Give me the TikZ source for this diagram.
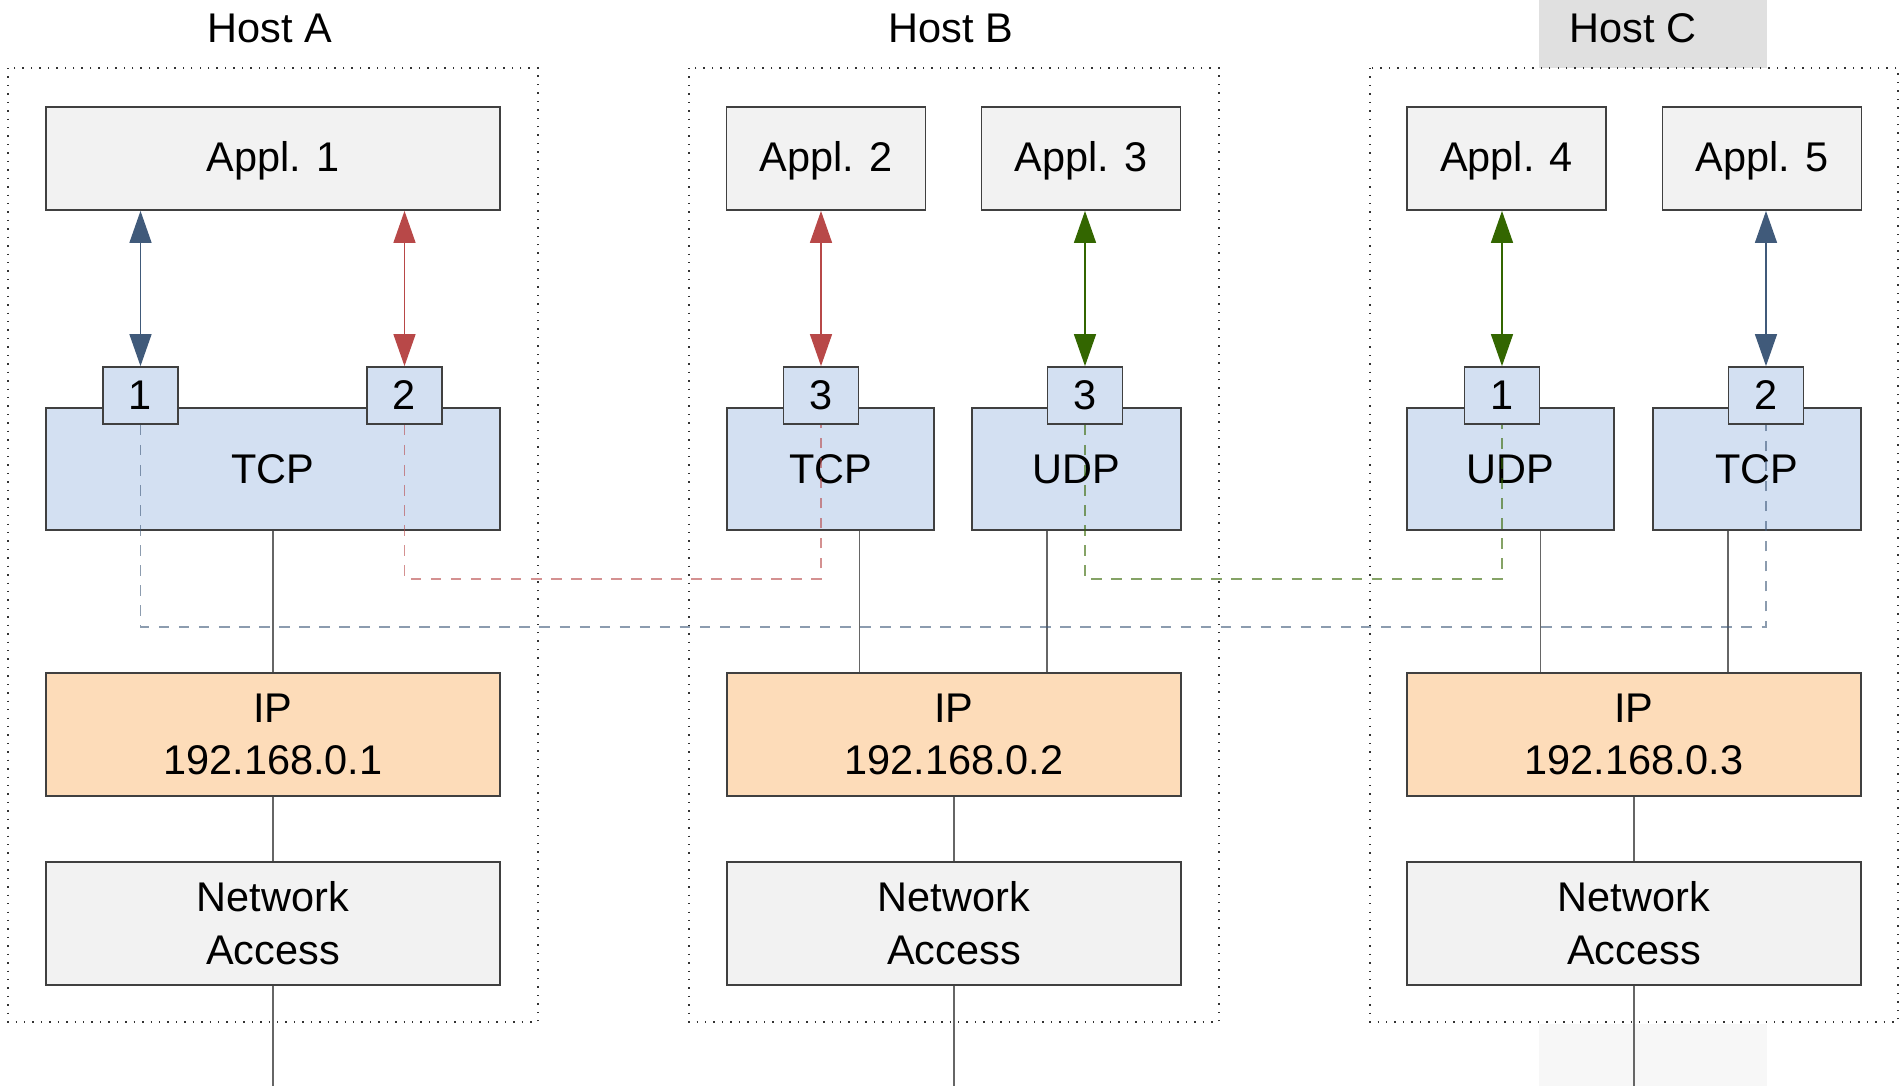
\documentclass[tikz,border=0pt]{standalone}
\usepackage{fontspec}
\setmainfont{Liberation Sans}
\usetikzlibrary{arrows.meta}
\usetikzlibrary{positioning}

\definecolor{applfill}{HTML}{F2F2F2}
\definecolor{transfill}{HTML}{D3E0F2}
\definecolor{ipfill}{HTML}{FDDCB9}
\definecolor{flowblue}{HTML}{405A7A}
\definecolor{flowred}{HTML}{B84848}
\definecolor{flowgreen}{HTML}{336600}

\tikzset{
  appbox/.style={draw=black!75,line width=0.5pt,fill=applfill,minimum height=10.3mm,text depth=1pt},
  transbox/.style={draw=black!75,line width=0.5pt,fill=transfill,minimum height=12.2mm},
  ipbox/.style={draw=black!75,line width=0.5pt,fill=ipfill,minimum width=45.4mm,minimum height=12.3mm,align=center},
  accbox/.style={draw=black!75,line width=0.5pt,fill=applfill,minimum width=45.4mm,minimum height=12.3mm,align=center},
  portbox/.style={draw=black!75,line width=0.5pt,fill=transfill,minimum width=7.5mm,minimum height=5.7mm,inner sep=0pt},
  hostbox/.style={draw=black!80,dotted,line width=0.4pt},
  wire/.style={draw=black!60,line width=0.5pt},
  sock/.style={{Triangle[length=3.2mm,width=2.2mm]}-{Triangle[length=3.2mm,width=2.2mm]},color=#1,line width=0.4pt},
  conn/.style={draw=#1,opacity=0.6,dash pattern=on 3pt off 2.7pt,line width=0.4pt}
}

\begin{document}
\begin{tikzpicture}[x=0.1mm,y=-0.1mm,every node/.style={font=\fontsize{11.8}{15}\selectfont}]
  \useasboundingbox (0,0) rectangle (1899,1086);

  % host frames and names
  \fill[black!12] (1539,0) rectangle (1767,68);
  \fill[black!3] (1539,1024) rectangle (1767,1086);
  \draw[hostbox] (8,68) rectangle (538,1022);
  \draw[hostbox] (689,68) rectangle (1219,1022);
  \draw[hostbox] (1370,68) rectangle (1898,1022);
  \node (hostA) at (270,28) {Host A};
  \node (hostB) at (951,28) {Host B};
  \node (hostC) at (1633,28) {Host C};

  % Host A
  \node[appbox,minimum width=45.4mm] (app1) at (273,158.5) {Appl. 1};
  \node[transbox,minimum width=45.4mm] (tcpA) at (273,469) {TCP};
  \node[ipbox] (ipA) at (273,734.5) {IP\\192.168.0.1};
  \node[accbox] (naA) at (273,923.5) {Network\\Access};
  \node[portbox] (pA1) at (140.5,395.5) {1};
  \node[portbox] (pA2) at (404.5,395.5) {2};
  \coordinate (endA) at (273,1086);

  % Host B
  \node[appbox,minimum width=19.9mm] (app2) at (826,158.5) {Appl. 2};
  \node[appbox,minimum width=19.9mm] (app3) at (1081,158.5) {Appl. 3};
  \node[transbox,minimum width=20.7mm] (tcpB) at (830.5,469) {TCP};
  \node[transbox,minimum width=20.9mm] (udpB) at (1076.5,469) {UDP};
  \node[ipbox] (ipB) at (954,734.5) {IP\\192.168.0.2};
  \node[accbox] (naB) at (954,923.5) {Network\\Access};
  \node[portbox] (pB3) at (821,395.5) {3};
  \node[portbox] (pB3u) at (1085,395.5) {3};
  \coordinate (endB) at (954,1086);

  % Host C
  \node[appbox,minimum width=19.9mm] (app4) at (1506.5,158.5) {Appl. 4};
  \node[appbox,minimum width=19.9mm] (app5) at (1762,158.5) {Appl. 5};
  \node[transbox,minimum width=20.7mm] (udpC) at (1510.5,469) {UDP};
  \node[transbox,minimum width=20.8mm] (tcpC) at (1757,469) {TCP};
  \node[ipbox] (ipC) at (1634,734.5) {IP\\192.168.0.3};
  \node[accbox] (naC) at (1634,923.5) {Network\\Access};
  \node[portbox] (pC1) at (1502,395.5) {1};
  \node[portbox] (pC2) at (1766,395.5) {2};
  \coordinate (endC) at (1634,1086);

  % stack wiring
  \draw[wire] (tcpA.south) -- (ipA.north);
  \draw[wire] (pB3.east |- tcpB.south) -- (pB3.east |- ipB.north);
  \draw[wire] (pB3u.west |- udpB.south) -- (pB3u.west |- ipB.north);
  \draw[wire] (pC1.east |- udpC.south) -- (pC1.east |- ipC.north);
  \draw[wire] (pC2.west |- tcpC.south) -- (pC2.west |- ipC.north);
  \draw[wire] (ipA) -- (naA);
  \draw[wire] (ipB) -- (naB);
  \draw[wire] (ipC) -- (naC);
  \draw[wire] (naA) -- (endA);
  \draw[wire] (naB) -- (endB);
  \draw[wire] (naC) -- (endC);

  % sockets
  \draw[sock=flowblue] (app1.south -| pA1) -- (pA1.north);
  \draw[sock=flowred] (app1.south -| pA2) -- (pA2.north);
  \draw[sock=flowred] (app2.south -| pB3) -- (pB3.north);
  \draw[sock=flowgreen] (app3.south -| pB3u) -- (pB3u.north);
  \draw[sock=flowgreen] (app4.south -| pC1) -- (pC1.north);
  \draw[sock=flowblue] (app5.south -| pC2) -- (pC2.north);

  % end to end connections
  \draw[conn=flowred] (pA2.south) -- ++(0,154) -| (pB3.south);
  \draw[conn=flowgreen] (pB3u.south) -- ++(0,154) -| (pC1.south);
  \draw[conn=flowblue] (pA1.south) -- ++(0,202) -| (pC2.south);
\end{tikzpicture}
\end{document}
